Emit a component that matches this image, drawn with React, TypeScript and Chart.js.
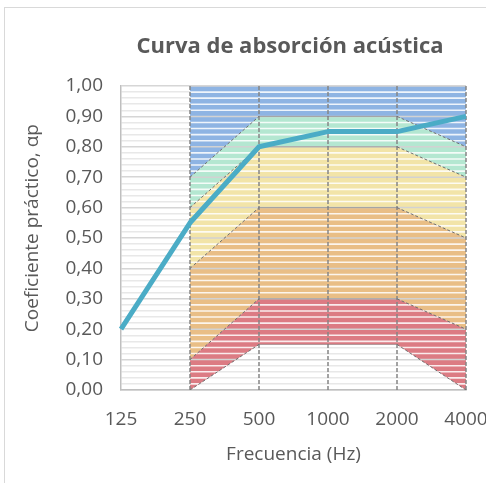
import React, { useEffect, useRef } from 'react';
import { Chart, registerables } from 'chart.js';

Chart.register(...registerables);

const frequencies = ['125', '250', '500', '1000', '2000', '4000'];
const absorption = [0.2, 0.55, 0.8, 0.85, 0.85, 0.9];
const classE = [null, 0.0, 0.15, 0.15, 0.15, 0.0];
const classD = [null, 0.1, 0.3, 0.3, 0.3, 0.2];
const classC = [null, 0.4, 0.6, 0.6, 0.6, 0.5];
const classB = [null, 0.6, 0.8, 0.8, 0.8, 0.7];
const classA = [null, 0.7, 0.9, 0.9, 0.9, 0.8];
const classTop = [null, 1, 1, 1, 1, 1];
const yMin = 0;
const yMax = 1;
const yStep = 0.02;

const FONT = "'Open Sans', sans-serif";
const TEXT = '#595959';

const isMajor = (v: number) => Math.round(v * 100) % 10 === 0;

const bandLine = (data: (number | null)[], fillColor?: string) => ({
  data,
  fill: fillColor ? '-1' : false,
  backgroundColor: fillColor || 'rgba(0,0,0,0)',
  borderColor: '#7f7f7f',
  borderWidth: 1,
  borderDash: [3, 2],
  pointRadius: 0,
  pointHoverRadius: 0,
  tension: 0,
  order: 1,
  segment: {
    borderDash: (c: any) => (c.p0.parsed.y === c.p1.parsed.y ? [] : [3, 2]),
    borderColor: (c: any) => (c.p0.parsed.y === c.p1.parsed.y ? 'rgba(120,120,120,0.55)' : '#707070'),
  },
});

const stripesPlugin = {
  id: 'bandStripes',
  beforeDatasetsDraw(chart: any) {
    const { ctx, chartArea, scales } = chart;
    const x = scales.x;
    const y = scales.y;
    const eMeta = chart.getDatasetMeta(1);
    const pts = eMeta.data.slice(1);
    if (!pts.length) return;
    const x0 = pts[0].x;
    const x1 = pts[pts.length - 1].x;
    const yTop = y.getPixelForValue(yMax);
    ctx.save();
    ctx.beginPath();
    pts.forEach((p: any, i: number) => (i ? ctx.lineTo(p.x, p.y) : ctx.moveTo(p.x, p.y)));
    ctx.lineTo(x1, yTop);
    ctx.lineTo(x0, yTop);
    ctx.closePath();
    ctx.clip();
    const n = Math.round((yMax - yMin) / yStep);
    for (let k = 0; k <= n; k++) {
      const v = yMin + k * yStep;
      const py = y.getPixelForValue(v);
      const major = isMajor(v);
      ctx.strokeStyle = major ? '#d2d2d2' : 'rgba(255,255,255,0.85)';
      ctx.lineWidth = major ? 1.5 : 1.6;
      ctx.beginPath();
      ctx.moveTo(x0, py);
      ctx.lineTo(x1, py);
      ctx.stroke();
    }
    ctx.restore();

    ctx.save();
    ctx.strokeStyle = '#858585';
    ctx.lineWidth = 1.5;
    ctx.setLineDash([4, 2]);
    for (let i = 1; i < frequencies.length; i++) {
      const px = x.getPixelForValue(i);
      ctx.beginPath();
      ctx.moveTo(px, chartArea.top);
      ctx.lineTo(px, chartArea.bottom);
      ctx.stroke();
    }
    ctx.restore();
  },
};

export default function App() {
  const ref = useRef<HTMLCanvasElement | null>(null);

  useEffect(() => {
    if (!ref.current) return;
    const chart = new Chart(ref.current, {
      type: 'line',
      data: {
        labels: frequencies,
        datasets: [
          {
            label: 'Coeficiente práctico',
            data: absorption,
            borderColor: '#4bacc6',
            backgroundColor: '#4bacc6',
            borderWidth: 5,
            borderJoinStyle: 'round',
            pointRadius: 0,
            pointHoverRadius: 0,
            fill: false,
            tension: 0,
            order: 0,
          },
          bandLine(classE),
          bandLine(classD, '#dc7b83'),
          bandLine(classC, '#e9be86'),
          bandLine(classB, '#f2e4a8'),
          bandLine(classA, '#b4e7d1'),
          { ...bandLine(classTop, '#8eb4e3'), borderColor: 'rgba(0,0,0,0)', segment: {} },
        ] as any,
      },
      options: {
        animation: false,
        responsive: false,
        devicePixelRatio: 1,
        layout: { padding: { left: 0, right: 0, top: 0, bottom: 17 } },
        plugins: {
          legend: { display: false },
          tooltip: { enabled: false },
          filler: { drawTime: 'beforeDatasetsDraw' } as any,
          title: {
            display: true,
            text: 'Curva de absorción acústica',
            color: TEXT,
            font: { family: FONT, size: 22, weight: 'bold', lineHeight: 1.2 },
            padding: { top: 33.8, bottom: 25.8 },
          },
        },
        scales: {
          x: {
            type: 'category',
            offset: false,
            grid: { display: false, drawTicks: false },
            border: { display: true, color: '#bfbfbf', width: 1.5 },
            ticks: { padding: 18.5, color: TEXT, font: { family: FONT, size: 19 }, maxRotation: 0, autoSkip: false },
            title: {
              display: true,
              text: 'Frecuencia (Hz)',
              color: TEXT,
              font: { family: FONT, size: 19, lineHeight: 1.2 },
              padding: { top: 0, bottom: 0 },
            },
            afterFit: (s: any) => {
              s.height = 76;
            },
          },
          y: {
            type: 'linear',
            min: yMin,
            max: yMax,
            ticks: {
              stepSize: yStep,
              autoSkip: false,
              padding: 18,
              color: TEXT,
              font: { family: FONT, size: 19 },
              callback: (v: any) => (isMajor(Number(v)) ? (Math.round(Number(v) * 100) / 100).toFixed(2).replace('.', ',') : ''),
            },
            grid: {
              drawTicks: false,
              color: (c: any) => (isMajor(c.tick.value) ? '#d6d6d6' : '#e8e8e8'),
              lineWidth: 1.5,
            },
            border: { display: true, color: '#bfbfbf', width: 1.5 },
            title: {
              display: true,
              text: '    Coeficiente práctico, αp',
              color: TEXT,
              font: { family: FONT, size: 19, lineHeight: 1.2 },
              padding: { top: 21.6, bottom: 0 },
            },
            afterFit: (s: any) => {
              s.width = 121;
            },
          },
          yRight: {
            type: 'linear',
            position: 'right',
            display: true,
            grid: { display: false, drawTicks: false },
            border: { display: false },
            ticks: { display: false },
            afterFit: (s: any) => {
              s.width = 114;
            },
          },
        },
      } as any,
      plugins: [stripesPlugin],
    });
    return () => chart.destroy();
  }, []);

  return (
    <div style={{ position: 'absolute', left: 0, top: 0, width: 486, height: 483, overflow: 'hidden', background: '#fff' }}>
      <div
        style={{
          position: 'absolute',
          left: 4,
          top: 7,
          width: 700,
          height: 700,
          border: '1px solid #d9d9d9',
        }}
      />
      <canvas ref={ref} width={580} height={483} style={{ position: 'absolute', left: 0, top: 0, width: 580, height: 483 }} />
    </div>
  );
}
